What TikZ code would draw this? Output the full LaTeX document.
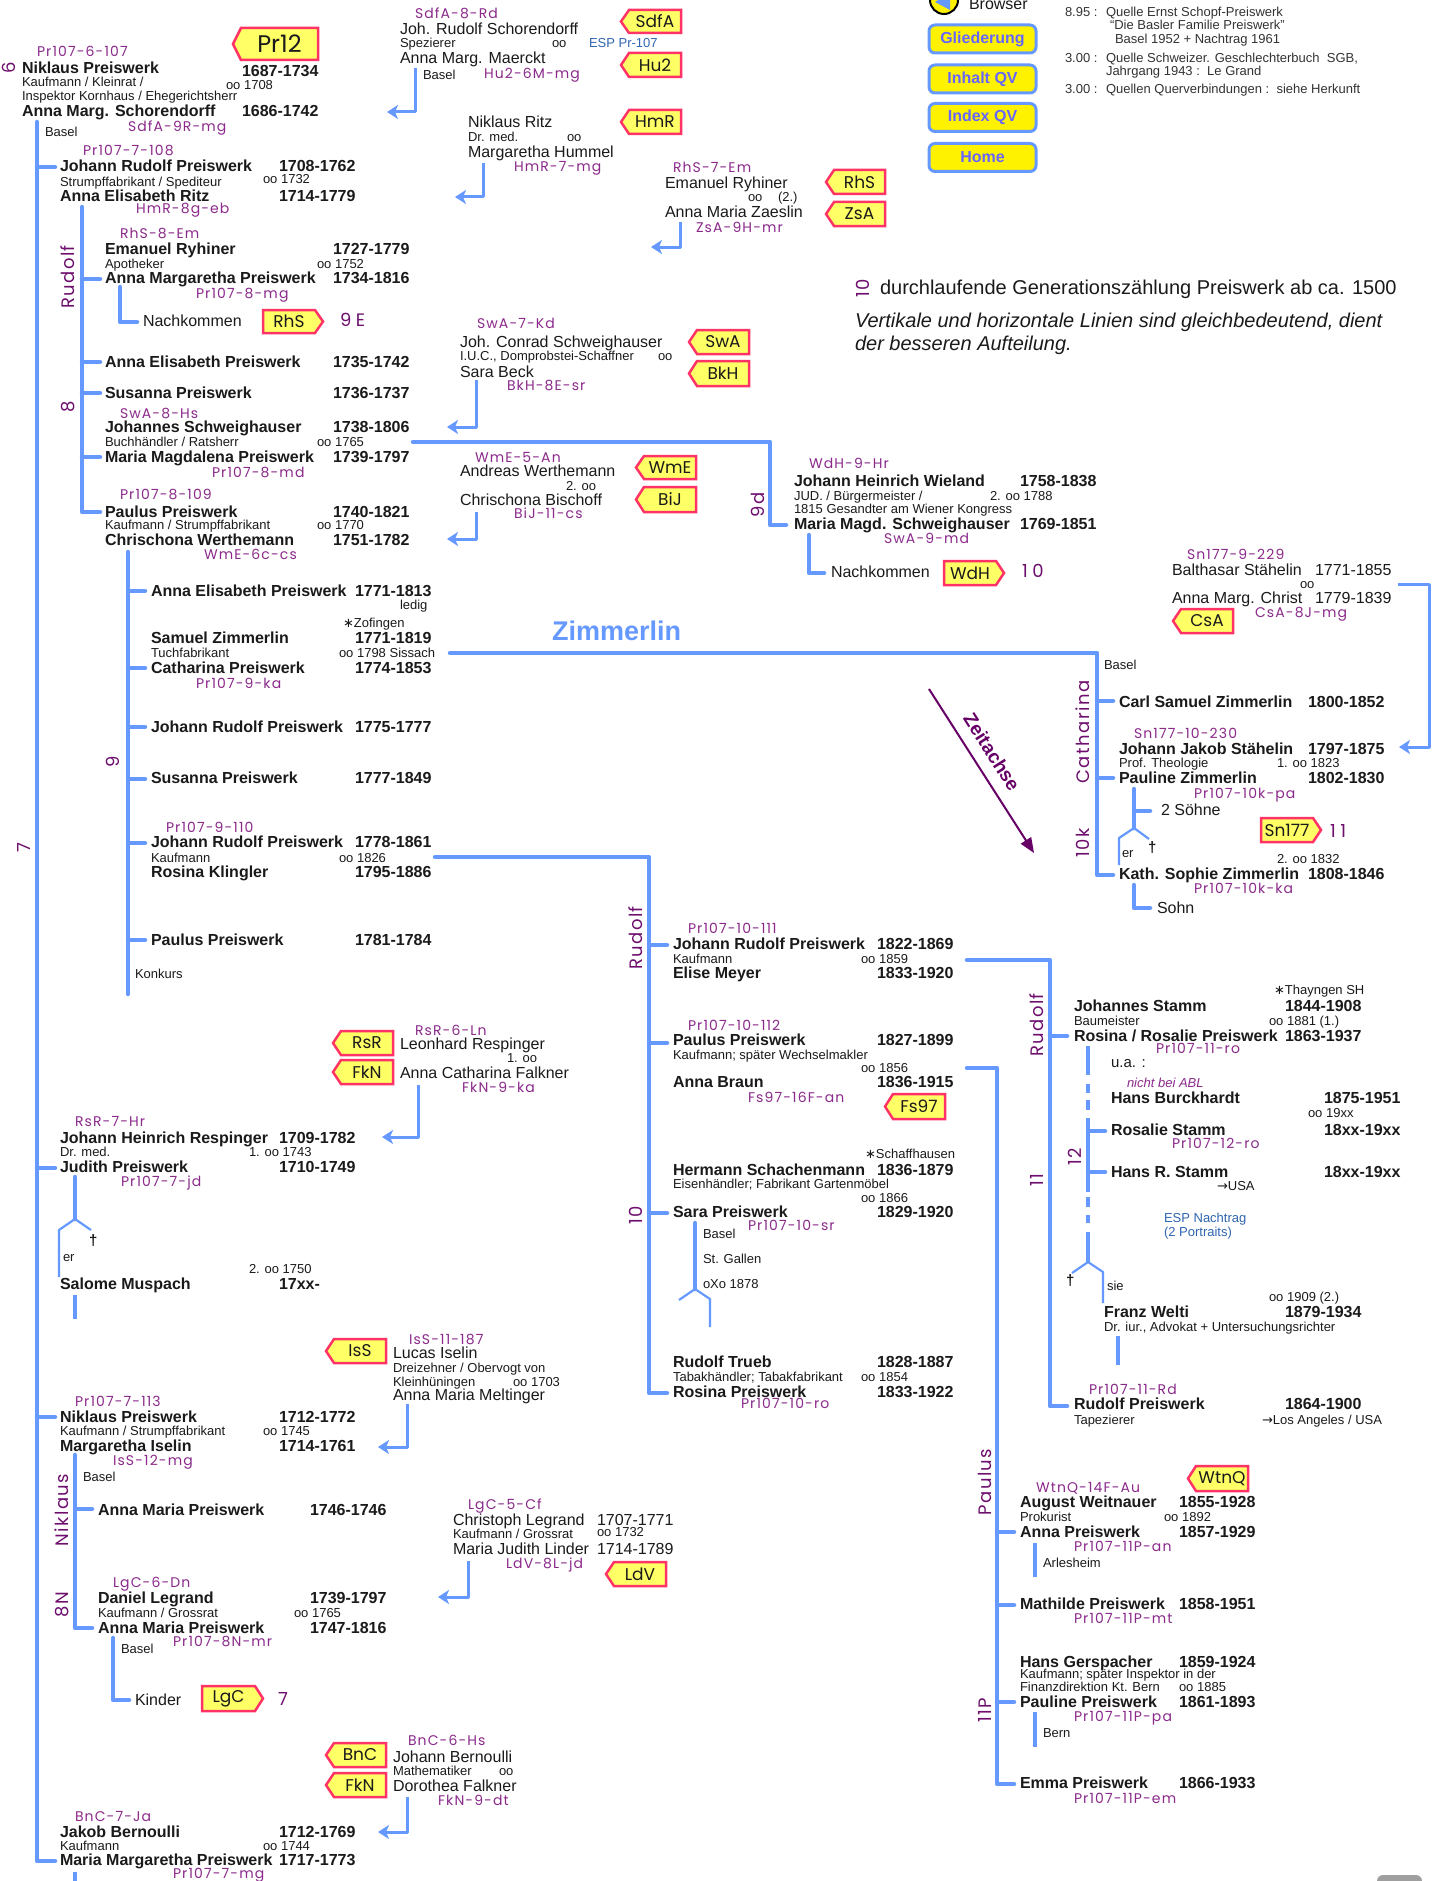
\documentclass[tikz,border=0pt]{standalone}
\usepackage{fontspec}
\setmainfont{Liberation Sans}
\newfontfamily\cf{Poppins}[LetterSpace=8]
\newfontfamily\gf{Poppins}[LetterSpace=8]
\newfontfamily\bgf{Poppins}[LetterSpace=25]
\newfontfamily\tf{Poppins}
\newfontfamily\sym{DejaVu Sans}
\usetikzlibrary{arrows.meta}
\definecolor{lb}{HTML}{6699FF}
\definecolor{pu}{HTML}{8B2A8B}
\definecolor{gp}{HTML}{6E0F6E}
\definecolor{tY}{HTML}{FFFF66}
\definecolor{tR}{HTML}{FF3366}
\definecolor{ink}{HTML}{1A1A1A}
\definecolor{nb}{HTML}{6666FF}
\definecolor{espc}{HTML}{2F65B0}
\definecolor{ztc}{HTML}{660066}
\definecolor{src}{HTML}{333333}
\newcommand\fs[1]{\fontsize{#1}{#1}\selectfont}
\newcounter{nc}
\newcommand\tx[4]{\stepcounter{nc}\node[#1] (t\arabic{nc}) at (#2,#3) {#4};}
\newcommand\tagL[5]{%
  \draw[tagst] (#1,{(#2+#4)/2}) -- ({#1+8},#2) -- (#3,#2) -- (#3,#4) -- ({#1+8},#4) -- cycle;
  \stepcounter{nc}\node[tagtx] (t\arabic{nc}) at ({(#1+#3)/2+4},{(#2+#4)/2}) {#5};}
\newcommand\tagR[5]{%
  \draw[tagst] (#1,#2) -- ({#3-8},#2) -- (#3,{(#2+#4)/2}) -- ({#3-8},#4) -- (#1,#4) -- cycle;
  \stepcounter{nc}\node[tagtx] (t\arabic{nc}) at ({(#1+#3)/2-4},{(#2+#4)/2}) {#5};}
\tikzset{
 tb/.style={inner sep=0pt, outer sep=0pt, anchor=base west, text=ink},
 bn/.style={tb, font=\fs{16}\bfseries},
 rn/.style={tb, font=\fs{16}},
 sm/.style={tb, font=\fs{13}},
 srcs/.style={tb, font=\fs{13}, text=src},
 cd/.style={tb, font=\cf\fs{14}, text=pu},
 gen/.style={inner sep=0pt, anchor=center, rotate=90, font=\gf\fs{18}, text=gp},
 bg/.style={tb, font=\bgf\fs{18}, text=gp},
 esp/.style={tb, font=\fs{13}, text=espc},
 ml/.style={draw=lb, line width=4.5pt, line join=round, line cap=round},
 mb/.style={draw=lb, line width=4.5pt},
 fl/.style={draw=lb, line width=2.2pt, line join=round},
 par/.style={draw=lb, line width=3pt, line join=round, -{Stealth[length=11pt,width=14pt,inset=3pt]}},
 tagst/.style={fill=tY, draw=tR, line width=2.5pt},
 tagtx/.style={inner sep=0pt, font=\tf\fs{17}, text=ink},
 navb/.style={draw=lb, fill=yellow, line width=3pt, rounded corners=6pt, minimum width=107pt, minimum height=28pt, font=\fs{16}\bfseries, text=nb, inner sep=0pt},
}
\begin{document}
\begin{tikzpicture}[x=1pt,y=-1pt]
\fill[white] (0,0) rectangle (1444,1881);
\useasboundingbox (0,0) rectangle (1444,1881);

% ---------- lines ----------
\draw[ml] (37,122) -- (37,1861) -- (55,1861);
\foreach \y in {167,1168,1417} \draw[ml] (37,\y) -- (55,\y);
\draw[ml] (82,207) -- (82,512) -- (100,512);
\foreach \y in {279,362,393,457} \draw[ml] (82,\y) -- (100,\y);
\draw[ml] (120,287) -- (120,322) -- (137,322);
\draw[ml] (413,442) -- (770,442) -- (770,525) -- (786,525);
\draw[ml] (809,535) -- (809,573) -- (824,573);
\draw[ml] (128,552) -- (128,994);
\foreach \y in {591,668,727,779,843,940} \draw[ml] (128,\y) -- (145,\y);
\draw[ml] (450,653) -- (1097,653) -- (1097,875) -- (1113,875);
\foreach \y in {701,778} \draw[ml] (1097,\y) -- (1113,\y);
\draw[ml] (1134,789) -- (1134,828);
\draw[ml] (1134,811) -- (1150,811);
\draw[fl] (1134,828) -- (1119,838) -- (1119,865);
\draw[fl] (1134,828) -- (1149,839);
\draw[ml] (1134,885) -- (1134,908) -- (1150,908);
\draw[par] (1398,584) -- (1429,584) -- (1429,747) -- (1399,747);
\draw[ml] (435,857) -- (649,857) -- (649,1393) -- (667,1393);
\foreach \y in {945,1043,1213} \draw[ml] (649,\y) -- (667,\y);
\draw[ml] (695,1223) -- (695,1289);
\draw[fl] (695,1289) -- (679,1300);
\draw[fl] (695,1289) -- (710,1299) -- (710,1327);
\draw[ml] (967,960) -- (1050,960) -- (1050,1406) -- (1067,1406);
\draw[ml] (1050,1036) -- (1067,1036);
\draw[ml] (967,1068) -- (997,1068) -- (997,1784) -- (1014,1784);
\foreach \y in {1532,1605,1702} \draw[ml] (997,\y) -- (1014,\y);
\foreach \a/\b in {1046/1075,1084/1093,1100/1110,1118/1192,1197/1207,1215/1223,1232/1262}
  \draw[mb] (1088,\a) -- (1088,\b);
\foreach \y in {1131,1172} \draw[ml] (1088,\y) -- (1105,\y);
\draw[fl] (1088,1262) -- (1072,1273);
\draw[fl] (1088,1262) -- (1103,1272) -- (1103,1303);
\draw[mb] (1118,1336) -- (1118,1365);
\draw[mb] (1035,1543) -- (1035,1577);
\draw[mb] (1035,1712) -- (1035,1747);
\draw[ml] (75,1177) -- (75,1219);
\draw[fl] (75,1219) -- (59,1230) -- (59,1277);
\draw[fl] (75,1219) -- (91,1230);
\draw[mb] (75,1295) -- (75,1319);
\draw[ml] (75,1455) -- (75,1628) -- (92,1628);
\draw[ml] (75,1509) -- (92,1509);
\draw[ml] (113,1638) -- (113,1700) -- (129,1700);
\draw[mb] (75,1872) -- (75,1890);

% parent arrows
\draw[par] (415,68) -- (415,112) -- (387,112);
\draw[par] (483,163) -- (483,197) -- (455,197);
\draw[par] (680,222) -- (680,247) -- (651,247);
\draw[par] (476,380) -- (476,427) -- (447,427);
\draw[par] (476,512) -- (476,539) -- (447,539);
\draw[par] (418,1085) -- (418,1137) -- (382,1137);
\draw[par] (407,1404) -- (407,1447) -- (378,1447);
\draw[par] (468,1561) -- (468,1597) -- (438,1597);
\draw[par] (407,1797) -- (407,1832) -- (378,1832);

% Zeitachse
\draw[draw=ztc, line width=2pt, -{Triangle[length=15pt,width=12pt]}] (929,689) -- (1034,853);
\node[rotate=-57.4, font=\fs{19}\bfseries, text=ztc, inner sep=0pt] (zeit) at (992,752) {Zeitachse};

% ---------- nav ----------
\draw[fill=yellow, line width=2pt] (944,0) circle (14);
\fill[lb] (935,2) -- (950,-8) -- (950,10) -- cycle;
\tx{rn}{969}{10}{Browser}
\node[navb] (nav1) at (982.5,39) {Gliederung};
\node[navb] (nav2) at (982.5,79) {Inhalt QV};
\node[navb] (nav3) at (982.5,117.5) {Index QV};
\node[navb] (nav4) at (982.5,157.5) {Home};

% sources
\tx{srcs}{1065}{17}{8.95 :}
\tx{srcs}{1106}{17}{Quelle Ernst Schopf-Preiswerk}
\tx{srcs}{1110}{30}{“Die Basler Familie Preiswerk”}
\tx{srcs}{1115}{44}{Basel 1952 + Nachtrag 1961}
\tx{srcs}{1065}{63}{3.00 :}
\tx{srcs}{1106}{63}{Quelle Schweizer. Geschlechterbuch\ \ SGB,}
\tx{srcs}{1106}{76}{Jahrgang 1943 :\ \ Le Grand}
\tx{srcs}{1065}{94}{3.00 :}
\tx{srcs}{1106}{94}{Quellen Querverbindungen :\ \ siehe Herkunft}

% legend
\tx{gen}{863}{288}{10}
\tx{tb,font=\fs{20}}{880}{294}{durchlaufende Generationszählung Preiswerk ab ca. 1500}
\tx{tb,font=\fs{20}\itshape}{855}{327}{Vertikale und horizontale Linien sind gleichbedeutend, dient}
\tx{tb,font=\fs{20}\itshape}{855}{350}{der besseren Aufteilung.}

% ---------- gen 6 ----------
\tagL{233}{28}{318}{60}{\fs{24}Pr12}
\tx{gen}{9}{68}{6}
\tx{cd}{37}{57}{Pr107-6-107}
\tx{bn}{22}{74}{Niklaus Preiswerk}
\tx{bn}{242}{77}{1687-1734}
\tx{sm}{22}{87}{Kaufmann / Kleinrat /}
\tx{sm}{226}{90}{oo 1708}
\tx{sm}{22}{101}{Inspektor Kornhaus / Ehegerichtsherr}
\tx{bn}{22}{117}{Anna Marg. Schorendorff}
\tx{bn}{242}{117}{1686-1742}
\tx{cd}{128}{132}{SdfA-9R-mg}
\tx{sm}{45}{137}{Basel}

\tx{cd}{415}{19}{SdfA-8-Rd}
\tx{rn}{400}{35}{Joh. Rudolf Schorendorff}
\tx{sm}{400}{48}{Spezierer}
\tx{sm}{552}{48}{oo}
\tx{esp}{589}{48}{ESP Pr-107}
\tx{rn}{400}{64}{Anna Marg. Maerckt}
\tx{cd}{484}{79}{Hu2-6M-mg}
\tx{sm}{423}{80}{Basel}
\tagL{621}{10}{681}{33}{SdfA}
\tagL{621}{53}{681}{77}{Hu2}
\tagL{621}{110}{681}{134}{HmR}

\tx{rn}{468}{128}{Niklaus Ritz}
\tx{sm}{468}{142}{Dr. med.}
\tx{sm}{567}{142}{oo}
\tx{rn}{468}{158}{Margaretha Hummel}
\tx{cd}{514}{172}{HmR-7-mg}

\tx{cd}{673}{173}{RhS-7-Em}
\tx{rn}{665}{189}{Emanuel Ryhiner}
\tx{sm}{748}{202}{oo}
\tx{sm}{778}{202}{(2.)}
\tx{rn}{665}{217}{Anna Maria Zaeslin}
\tx{cd}{696}{232}{ZsA-9H-mr}
\tagL{826}{170}{885}{194}{RhS}
\tagL{826}{202}{885}{226}{ZsA}

% ---------- gen 7 / 8 ----------
\tx{cd}{83}{156}{Pr107-7-108}
\tx{bn}{60}{172}{Johann Rudolf Preiswerk}
\tx{bn}{279}{172}{1708-1762}
\tx{sm}{60}{186}{Strumpffabrikant / Spediteur}
\tx{sm}{263}{184}{oo 1732}
\tx{bn}{60}{201}{Anna Elisabeth Ritz}
\tx{bn}{279}{201}{1714-1779}
\tx{cd}{136}{214}{HmR-8g-eb}

\tx{gen}{68}{277}{Rudolf}
\tx{gen}{68}{407}{8}
\tx{cd}{120}{238}{RhS-8-Em}
\tx{bn}{105}{254}{Emanuel Ryhiner}
\tx{bn}{333}{254}{1727-1779}
\tx{sm}{105}{268}{Apotheker}
\tx{sm}{317}{268}{oo 1752}
\tx{bn}{105}{283}{Anna Margaretha Preiswerk}
\tx{bn}{333}{283}{1734-1816}
\tx{cd}{196}{298}{Pr107-8-mg}
\tx{rn}{143}{326}{Nachkommen}
\tagR{263}{310}{323}{333}{RhS}
\tx{bg}{340}{326}{9E}
\tx{bn}{105}{367}{Anna Elisabeth Preiswerk}
\tx{bn}{333}{367}{1735-1742}
\tx{bn}{105}{398}{Susanna Preiswerk}
\tx{bn}{333}{398}{1736-1737}
\tx{cd}{120}{418}{SwA-8-Hs}
\tx{bn}{105}{432}{Johannes Schweighauser}
\tx{bn}{333}{432}{1738-1806}
\tx{sm}{105}{446}{Buchhändler / Ratsherr}
\tx{sm}{317}{446}{oo 1765}
\tx{bn}{105}{462}{Maria Magdalena Preiswerk}
\tx{bn}{333}{462}{1739-1797}
\tx{cd}{212}{477}{Pr107-8-md}

\tx{cd}{477}{328}{SwA-7-Kd}
\tx{rn}{460}{347}{Joh. Conrad Schweighauser}
\tx{sm}{460}{360}{I.U.C., Domprobstei-Schaffner}
\tx{sm}{658}{360}{oo}
\tx{rn}{460}{377}{Sara Beck}
\tx{cd}{507}{390}{BkH-8E-sr}
\tagL{689}{330}{749}{354}{SwA}
\tagL{689}{361}{749}{386}{BkH}

\tx{cd}{475}{462}{WmE-5-An}
\tx{rn}{460}{476}{Andreas Werthemann}
\tx{sm}{566}{490}{2. oo}
\tx{rn}{460}{505}{Chrischona Bischoff}
\tx{cd}{514}{518}{BiJ-11-cs}
\tagL{636}{456}{696}{479}{WmE}
\tagL{636}{487}{696}{512}{BiJ}

\tx{cd}{120}{499}{Pr107-8-109}
\tx{bn}{105}{517}{Paulus Preiswerk}
\tx{bn}{333}{517}{1740-1821}
\tx{sm}{105}{529}{Kaufmann / Strumpffabrikant}
\tx{sm}{317}{529}{oo 1770}
\tx{bn}{105}{545}{Chrischona Werthemann}
\tx{bn}{333}{545}{1751-1782}
\tx{cd}{204}{559}{WmE-6c-cs}

% Wieland
\tx{gen}{758}{505}{9d}
\tx{cd}{809}{468}{WdH-9-Hr}
\tx{bn}{794}{486}{Johann Heinrich Wieland}
\tx{bn}{1020}{486}{1758-1838}
\tx{sm}{794}{500}{JUD. / Bürgermeister /}
\tx{sm}{990}{500}{2. oo 1788}
\tx{sm}{794}{513}{1815 Gesandter am Wiener Kongress}
\tx{bn}{794}{529}{Maria Magd. Schweighauser}
\tx{bn}{1020}{529}{1769-1851}
\tx{cd}{884}{543}{SwA-9-md}
\tx{rn}{831}{577}{Nachkommen}
\tagR{944}{561}{1004}{585}{WdH}
\tx{bg}{1022}{577}{10}

% ---------- gen 9 ----------
\tx{gen}{113}{762}{9}
\tx{gen}{24}{848}{7}
\tx{bn}{151}{596}{Anna Elisabeth Preiswerk}
\tx{bn}{355}{596}{1771-1813}
\tx{sm}{400}{609}{ledig}
\tx{sm}{343}{627}{{\sym ∗}Zofingen}
\tx{bn}{151}{643}{Samuel Zimmerlin}
\tx{bn}{355}{643}{1771-1819}
\tx{sm}{151}{657}{Tuchfabrikant}
\tx{sm}{339}{657}{oo 1798 Sissach}
\tx{bn}{151}{673}{Catharina Preiswerk}
\tx{bn}{355}{673}{1774-1853}
\tx{cd}{196}{688}{Pr107-9-ka}
\tx{bn}{151}{732}{Johann Rudolf Preiswerk}
\tx{bn}{355}{732}{1775-1777}
\tx{bn}{151}{783}{Susanna Preiswerk}
\tx{bn}{355}{783}{1777-1849}
\tx{cd}{166}{832}{Pr107-9-110}
\tx{bn}{151}{847}{Johann Rudolf Preiswerk}
\tx{bn}{355}{847}{1778-1861}
\tx{sm}{151}{862}{Kaufmann}
\tx{sm}{339}{862}{oo 1826}
\tx{bn}{151}{877}{Rosina Klingler}
\tx{bn}{355}{877}{1795-1886}
\tx{bn}{151}{945}{Paulus Preiswerk}
\tx{bn}{355}{945}{1781-1784}
\tx{sm}{135}{978}{Konkurs}

\tx{tb,font=\fs{27}\bfseries,text=lb}{552}{640}{Zimmerlin}

% Staehelin / Zimmerlin
\tx{cd}{1187}{559}{Sn177-9-229}
\tx{rn}{1172}{575}{Balthasar Stähelin}
\tx{rn}{1315}{575}{1771-1855}
\tx{sm}{1300}{588}{oo}
\tx{rn}{1172}{603}{Anna Marg. Christ}
\tx{rn}{1315}{603}{1779-1839}
\tx{cd}{1255}{617}{CsA-8J-mg}
\tagL{1173}{609}{1233}{633}{CsA}
\tx{sm}{1104}{669}{Basel}
\tx{gen}{1083}{732}{Catharina}
\tx{gen}{1083}{843}{10k}
\tx{bn}{1119}{707}{Carl Samuel Zimmerlin}
\tx{bn}{1308}{707}{1800-1852}
\tx{cd}{1134}{738}{Sn177-10-230}
\tx{bn}{1119}{754}{Johann Jakob Stähelin}
\tx{bn}{1308}{754}{1797-1875}
\tx{sm}{1119}{767}{Prof. Theologie}
\tx{sm}{1277}{767}{1. oo 1823}
\tx{bn}{1119}{783}{Pauline Zimmerlin}
\tx{bn}{1308}{783}{1802-1830}
\tx{cd}{1194}{798}{Pr107-10k-pa}
\tx{rn}{1161}{815}{2 Söhne}
\tagR{1261}{818}{1321}{842}{Sn177}
\tx{bg}{1330}{837}{11}
\tx{tb,font=\fs{15}\bfseries}{1148}{852}{†}
\tx{sm}{1122}{857}{er}
\tx{sm}{1277}{863}{2. oo 1832}
\tx{bn}{1119}{879}{Kath. Sophie Zimmerlin}
\tx{bn}{1308}{879}{1808-1846}
\tx{cd}{1194}{893}{Pr107-10k-ka}
\tx{rn}{1157}{913}{Sohn}

% ---------- gen 10 ----------
\tx{gen}{636}{938}{Rudolf}
\tx{gen}{636}{1215}{10}
\tx{cd}{688}{933}{Pr107-10-111}
\tx{bn}{673}{949}{Johann Rudolf Preiswerk}
\tx{bn}{877}{949}{1822-1869}
\tx{sm}{673}{963}{Kaufmann}
\tx{sm}{861}{963}{oo 1859}
\tx{bn}{673}{978}{Elise Meyer}
\tx{bn}{877}{978}{1833-1920}
\tx{cd}{688}{1030}{Pr107-10-112}
\tx{bn}{673}{1045}{Paulus Preiswerk}
\tx{bn}{877}{1045}{1827-1899}
\tx{sm}{673}{1059}{Kaufmann; später Wechselmakler}
\tx{sm}{861}{1072}{oo 1856}
\tx{bn}{673}{1087}{Anna Braun}
\tx{bn}{877}{1087}{1836-1915}
\tx{cd}{748}{1102}{Fs97-16F-an}
\tagL{885}{1094}{945}{1119}{Fs97}
\tx{sm}{865}{1158}{{\sym ∗}Schaffhausen}
\tx{bn}{673}{1175}{Hermann Schachenmann}
\tx{bn}{877}{1175}{1836-1879}
\tx{sm}{673}{1188}{Eisenhändler; Fabrikant Gartenmöbel}
\tx{sm}{861}{1202}{oo 1866}
\tx{bn}{673}{1217}{Sara Preiswerk}
\tx{bn}{877}{1217}{1829-1920}
\tx{cd}{748}{1230}{Pr107-10-sr}
\tx{sm}{703}{1238}{Basel}
\tx{sm}{703}{1263}{St. Gallen}
\tx{sm}{703}{1288}{oXo 1878}
\tx{bn}{673}{1367}{Rudolf Trueb}
\tx{bn}{877}{1367}{1828-1887}
\tx{sm}{673}{1381}{Tabakhändler; Tabakfabrikant}
\tx{sm}{861}{1381}{oo 1854}
\tx{bn}{673}{1397}{Rosina Preiswerk}
\tx{bn}{877}{1397}{1833-1922}
\tx{cd}{741}{1408}{Pr107-10-ro}

% ---------- gen 11 Rudolf ----------
\tx{gen}{1037}{1025}{Rudolf}
\tx{gen}{1037}{1180}{11}
\tx{gen}{1075}{1157}{12}
\tx{sm}{1274}{994}{{\sym ∗}Thayngen SH}
\tx{bn}{1074}{1011}{Johannes Stamm}
\tx{bn}{1285}{1011}{1844-1908}
\tx{sm}{1074}{1025}{Baumeister}
\tx{sm}{1269}{1025}{oo 1881 (1.)}
\tx{bn}{1074}{1041}{Rosina / Rosalie Preiswerk}
\tx{bn}{1285}{1041}{1863-1937}
\tx{cd}{1156}{1053}{Pr107-11-ro}
\tx{tb,font=\fs{15}}{1111}{1067}{u.a. :}
\tx{tb,font=\fs{13}\itshape,text=pu}{1127}{1087}{nicht bei ABL}
\tx{bn}{1111}{1103}{Hans Burckhardt}
\tx{bn}{1324}{1103}{1875-1951}
\tx{sm}{1308}{1117}{oo 19xx}
\tx{bn}{1111}{1135}{Rosalie Stamm}
\tx{bn}{1324}{1135}{18xx-19xx}
\tx{cd}{1172}{1148}{Pr107-12-ro}
\tx{bn}{1111}{1177}{Hans R. Stamm}
\tx{bn}{1324}{1177}{18xx-19xx}
\tx{sm}{1217}{1190}{{\sym →}USA}
\tx{esp}{1164}{1222}{ESP Nachtrag}
\tx{esp}{1164}{1236}{(2 Portraits)}
\tx{tb,font=\fs{15}\bfseries}{1066}{1285}{†}
\tx{sm}{1107}{1290}{sie}
\tx{sm}{1269}{1301}{oo 1909 (2.)}
\tx{bn}{1104}{1317}{Franz Welti}
\tx{bn}{1285}{1317}{1879-1934}
\tx{sm}{1104}{1331}{Dr. iur., Advokat + Untersuchungsrichter}
\tx{cd}{1089}{1394}{Pr107-11-Rd}
\tx{bn}{1074}{1409}{Rudolf Preiswerk}
\tx{bn}{1285}{1409}{1864-1900}
\tx{sm}{1074}{1424}{Tapezierer}
\tx{sm}{1262}{1424}{{\sym →}Los Angeles / USA}

% ---------- gen 11 Paulus ----------
\tx{gen}{985}{1482}{Paulus}
\tx{gen}{985}{1710}{11P}
\tagL{1188}{1466}{1248}{1491}{WtnQ}
\tx{cd}{1036}{1492}{WtnQ-14F-Au}
\tx{bn}{1020}{1507}{August Weitnauer}
\tx{bn}{1179}{1507}{1855-1928}
\tx{sm}{1020}{1521}{Prokurist}
\tx{sm}{1164}{1521}{oo 1892}
\tx{bn}{1020}{1537}{Anna Preiswerk}
\tx{bn}{1179}{1537}{1857-1929}
\tx{cd}{1074}{1551}{Pr107-11P-an}
\tx{sm}{1043}{1567}{Arlesheim}
\tx{bn}{1020}{1609}{Mathilde Preiswerk}
\tx{bn}{1179}{1609}{1858-1951}
\tx{cd}{1074}{1623}{Pr107-11P-mt}
\tx{bn}{1020}{1667}{Hans Gerspacher}
\tx{bn}{1179}{1667}{1859-1924}
\tx{sm}{1020}{1678}{Kaufmann; später Inspektor in der}
\tx{sm}{1020}{1691}{Finanzdirektion Kt. Bern}
\tx{sm}{1179}{1691}{oo 1885}
\tx{bn}{1020}{1707}{Pauline Preiswerk}
\tx{bn}{1179}{1707}{1861-1893}
\tx{cd}{1074}{1721}{Pr107-11P-pa}
\tx{sm}{1043}{1737}{Bern}
\tx{bn}{1020}{1788}{Emma Preiswerk}
\tx{bn}{1179}{1788}{1866-1933}
\tx{cd}{1074}{1803}{Pr107-11P-em}

% ---------- Respinger ----------
\tagL{333}{1031}{393}{1055}{RsR}
\tagL{333}{1060}{393}{1084}{FkN}
\tx{cd}{415}{1035}{RsR-6-Ln}
\tx{rn}{400}{1049}{Leonhard Respinger}
\tx{sm}{507}{1062}{1. oo}
\tx{rn}{400}{1078}{Anna Catharina Falkner}
\tx{cd}{462}{1092}{FkN-9-ka}
\tx{cd}{75}{1126}{RsR-7-Hr}
\tx{bn}{60}{1143}{Johann Heinrich Respinger}
\tx{bn}{279}{1143}{1709-1782}
\tx{sm}{60}{1156}{Dr. med.}
\tx{sm}{249}{1156}{1. oo 1743}
\tx{bn}{60}{1172}{Judith Preiswerk}
\tx{bn}{279}{1172}{1710-1749}
\tx{cd}{121}{1186}{Pr107-7-jd}
\tx{tb,font=\fs{15}\bfseries}{89}{1245}{†}
\tx{sm}{63}{1261}{er}
\tx{sm}{249}{1273}{2. oo 1750}
\tx{bn}{60}{1289}{Salome Muspach}
\tx{bn}{279}{1289}{17xx-}

% ---------- Iselin ----------
\tagL{326}{1339}{386}{1363}{IsS}
\tx{cd}{409}{1344}{IsS-11-187}
\tx{rn}{393}{1358}{Lucas Iselin}
\tx{sm}{393}{1372}{Dreizehner / Obervogt von}
\tx{sm}{393}{1386}{Kleinhüningen}
\tx{sm}{513}{1386}{oo 1703}
\tx{rn}{393}{1400}{Anna Maria Meltinger}
\tx{cd}{75}{1406}{Pr107-7-113}
\tx{bn}{60}{1422}{Niklaus Preiswerk}
\tx{bn}{279}{1422}{1712-1772}
\tx{sm}{60}{1435}{Kaufmann / Strumpffabrikant}
\tx{sm}{263}{1435}{oo 1745}
\tx{bn}{60}{1451}{Margaretha Iselin}
\tx{bn}{279}{1451}{1714-1761}
\tx{cd}{113}{1465}{IsS-12-mg}
\tx{sm}{83}{1481}{Basel}
\tx{gen}{62}{1510}{Niklaus}
\tx{gen}{62}{1605}{8N}
\tx{bn}{98}{1515}{Anna Maria Preiswerk}
\tx{bn}{310}{1515}{1746-1746}
\tx{cd}{113}{1587}{LgC-6-Dn}
\tx{bn}{98}{1603}{Daniel Legrand}
\tx{bn}{310}{1603}{1739-1797}
\tx{sm}{98}{1617}{Kaufmann / Grossrat}
\tx{sm}{294}{1617}{oo 1765}
\tx{bn}{98}{1633}{Anna Maria Preiswerk}
\tx{bn}{310}{1633}{1747-1816}
\tx{cd}{173}{1646}{Pr107-8N-mr}
\tx{sm}{121}{1653}{Basel}
\tx{rn}{135}{1705}{Kinder}
\tagR{202}{1686}{263}{1711}{LgC}
\tx{bg}{278}{1705}{7}

% Legrand
\tx{cd}{468}{1509}{LgC-5-Cf}
\tx{rn}{453}{1525}{Christoph Legrand}
\tx{rn}{597}{1525}{1707-1771}
\tx{sm}{453}{1538}{Kaufmann / Grossrat}
\tx{sm}{597}{1536}{oo 1732}
\tx{rn}{453}{1554}{Maria Judith Linder}
\tx{rn}{597}{1554}{1714-1789}
\tx{cd}{506}{1568}{LdV-8L-jd}
\tagL{606}{1562}{666}{1586}{LdV}

% Bernoulli
\tagL{326}{1743}{386}{1767}{BnC}
\tagL{326}{1773}{386}{1797}{FkN}
\tx{cd}{408}{1745}{BnC-6-Hs}
\tx{rn}{393}{1762}{Johann Bernoulli}
\tx{sm}{393}{1775}{Mathematiker}
\tx{sm}{499}{1775}{oo}
\tx{rn}{393}{1791}{Dorothea Falkner}
\tx{cd}{438}{1805}{FkN-9-dt}
\tx{cd}{75}{1821}{BnC-7-Ja}
\tx{bn}{60}{1837}{Jakob Bernoulli}
\tx{bn}{279}{1837}{1712-1769}
\tx{sm}{60}{1850}{Kaufmann}
\tx{sm}{263}{1850}{oo 1744}
\tx{bn}{60}{1865}{Maria Margaretha Preiswerk}
\tx{bn}{279}{1865}{1717-1773}
\tx{cd}{173}{1878}{Pr107-7-mg}

% bottom-right grey button (cut off)
\fill[gray!75, rounded corners=6pt] (1377,1875) rectangle (1422,1900);
\end{tikzpicture}
\end{document}
